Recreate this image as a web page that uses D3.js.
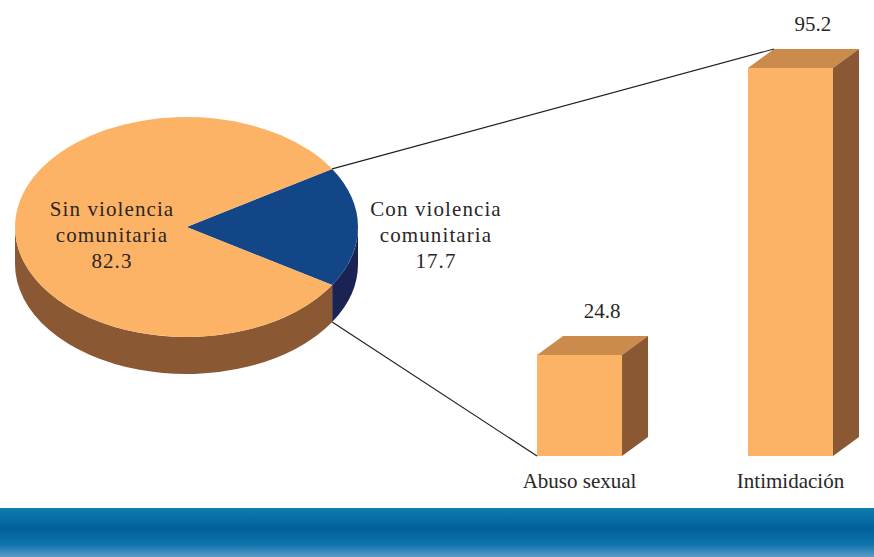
<!DOCTYPE html>
<html lang="en">
<head>
  <meta charset="UTF-8">
  <title>Violencia comunitaria</title>
  <script src="https://d3js.org/d3.v7.min.js"></script>
  <style>
    html, body { margin: 0; padding: 0; background: white; }
    svg { display: block; }
    text { font-family: "Liberation Serif", serif; fill: #2a2627; text-anchor: middle; font-size: 21px; }
    .spaced { letter-spacing: 1.1px; }
  </style>
</head>
<body>
  <svg width="874" height="557"></svg>
  <script>
    const pieNames = [["Con violencia", "comunitaria"], ["Sin violencia", "comunitaria"]];
    const pieValues = [17.7, 82.3];
    const barNames = ["Abuso sexual", "Intimidación"];
    const barValues = [24.8, 95.2];

    const svg = d3.select("svg");

    // footer band
    const grad = svg.append("defs").append("linearGradient")
      .attr("id", "band").attr("x1", 0).attr("x2", 0).attr("y1", 0).attr("y2", 1);
    [[0, "#0f7cae"], [0.42, "#015f9b"], [0.75, "#0f74ad"], [1, "#5a9ac4"]].forEach(s =>
      grad.append("stop").attr("offset", s[0]).attr("stop-color", s[1]));
    svg.append("rect").attr("x", 0).attr("y", 508).attr("width", 874).attr("height", 49).attr("fill", "url(#band)");

    // pie
    const cx = 186.5, cy = 227, rx = 171.5, ry = 110, depth = 37;
    const fills = ["#134686", "#fdb365"], sides = ["#1a2352", "#8a5933"];

    const pie = d3.pie().sort(null)
      .startAngle(Math.PI / 2 - pieValues[0] / 100 * Math.PI)
      .endAngle(Math.PI / 2 - pieValues[0] / 100 * Math.PI + 2 * Math.PI);
    const slices = pie(pieValues);

    const px = a => cx + rx * Math.sin(a);
    const py = a => cy - ry * Math.cos(a);

    // side walls, only the part facing front
    slices.forEach((s, i) => {
      const a0 = Math.max(s.startAngle, Math.PI / 2), a1 = Math.min(s.endAngle, 3 * Math.PI / 2);
      if (a1 <= a0) return;
      svg.append("path")
        .attr("d", `M${px(a0)},${py(a0)} A${rx},${ry} 0 0 1 ${px(a1)},${py(a1)} L${px(a1)},${py(a1) + depth} A${rx},${ry} 0 0 0 ${px(a0)},${py(a0) + depth} Z`)
        .attr("fill", sides[i]);
    });

    const arc = d3.arc().innerRadius(0).outerRadius(rx);
    svg.append("g")
      .attr("transform", `translate(${cx},${cy}) scale(1,${ry / rx})`)
      .selectAll("path")
      .data(slices)
      .enter()
      .append("path")
      .attr("d", arc)
      .attr("fill", (d, i) => fills[i]);

    // bars
    const y = d3.scaleLinear().domain([0, 95.2]).range([456, 68]);
    const x = d3.scaleBand().domain(barNames).range([537, 833]).paddingInner(0.597);
    const dx = 26, dy = -19;
    const bars = svg.append("g").selectAll("g")
      .data(barNames)
      .enter()
      .append("g");

    bars.append("path")
      .attr("d", (d, i) => {
        const l = x(d), r = l + x.bandwidth(), t = y(barValues[i]);
        return `M${l},${t} L${l + dx},${t + dy} L${r + dx},${t + dy} L${r},${t} Z`;
      })
      .attr("fill", "#cb8b4c");
    bars.append("path")
      .attr("d", (d, i) => {
        const r = x(d) + x.bandwidth(), t = y(barValues[i]), b = y(0);
        return `M${r},${t} L${r + dx},${t + dy} L${r + dx},${b + dy} L${r},${b} Z`;
      })
      .attr("fill", "#8a5933");
    bars.append("rect")
      .attr("x", d => x(d))
      .attr("y", (d, i) => y(barValues[i]))
      .attr("width", x.bandwidth())
      .attr("height", (d, i) => y(0) - y(barValues[i]))
      .attr("fill", "#fdb365");

    bars.append("text")
      .attr("x", d => x(d) + x.bandwidth() / 2)
      .attr("y", 488)
      .text(d => d);
    bars.append("text")
      .attr("x", d => x(d) + x.bandwidth() / 2 + 22.5)
      .attr("y", (d, i) => y(barValues[i]) + dy - 18)
      .text((d, i) => barValues[i]);

    // leader lines from the slice edges to the bars
    const blue = slices[0];
    const barHigh = x(barNames[1]), barLow = x(barNames[0]);
    svg.append("line")
      .attr("x1", px(blue.startAngle)).attr("y1", py(blue.startAngle))
      .attr("x2", barHigh + dx).attr("y2", y(barValues[1]) + dy)
      .attr("stroke", "#231f20").attr("stroke-width", 1.2);
    svg.append("line")
      .attr("x1", px(blue.endAngle)).attr("y1", py(blue.endAngle) + depth)
      .attr("x2", barLow).attr("y2", y(0))
      .attr("stroke", "#231f20").attr("stroke-width", 1.2);

    // pie labels
    const label = (tx, i) => {
      const t = svg.append("text").attr("class", "spaced");
      [...pieNames[i], pieValues[i]].forEach((l, k) =>
        t.append("tspan").attr("x", tx).attr("y", [216, 242, 268][k]).text(l));
    };
    label(112, 1);
    label(436, 0);
  </script>
</body>
</html>
